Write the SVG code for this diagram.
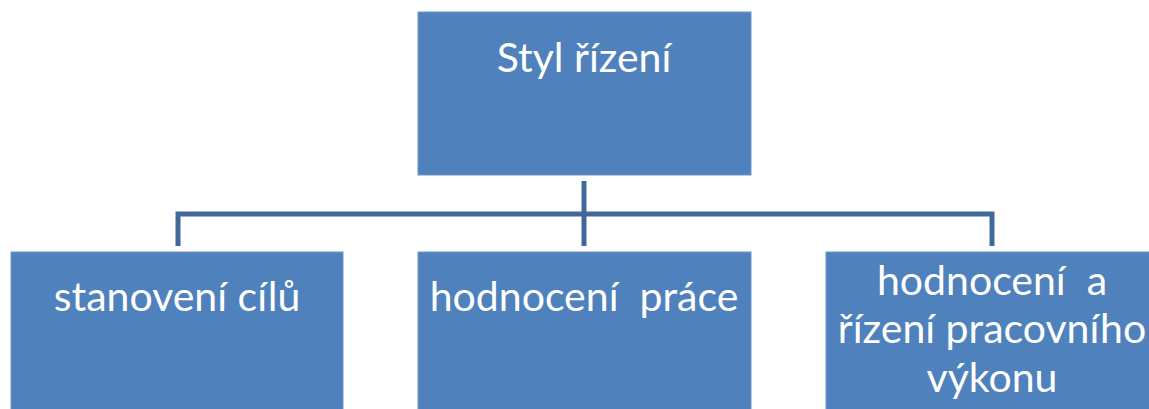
<svg xmlns="http://www.w3.org/2000/svg" width="1149" height="409" viewBox="0 0 1149 409">
<style>
.box{fill:#4F81BD;stroke:#6E96C8;stroke-width:1}
.t{font-family:Lato,"Open Sans","Liberation Sans",sans-serif;font-size:41px;fill:#FFFFFF;text-anchor:middle;white-space:pre}
.c{fill:none;stroke:#41689A;stroke-width:5}
</style>
<rect width="1149" height="409" fill="#FFFFFF"/>
<g id="connectors">
<path class="c" d="M584 181 V246"/>
<path class="c" d="M178 246 V214 H992 V246"/>
</g>
<g id="n0">
<rect class="box" x="418" y="12" width="333" height="163"/>
<text class="t" x="584" y="72">Styl řízení</text>
</g>
<g id="n1">
<rect class="box" x="11" y="252" width="332" height="170"/>
<text class="t" x="177" y="311">stanovení cílů</text>
</g>
<g id="n2">
<rect class="box" x="418" y="252" width="333" height="170"/>
<text class="t" x="584" y="311" xml:space="preserve">hodnocení  práce</text>
</g>
<g id="n3">
<rect class="box" x="826" y="252" width="333" height="170"/>
<text class="t" x="992" y="295" xml:space="preserve">hodnocení  a</text>
<text class="t" x="992" y="343">řízení pracovního</text>
<text class="t" x="992" y="392">výkonu</text>
</g>
</svg>
